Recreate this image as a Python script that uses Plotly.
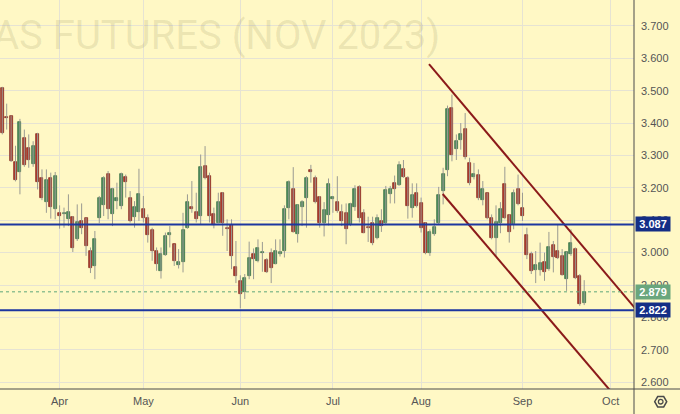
import plotly.graph_objects as go

# ---- data ----
opens = [3.508, 3.418, 3.421, 3.279, 3.249, 3.354, 3.323, 3.274, 3.365, 3.231,
         3.155, 3.229, 3.134, 3.123, 3.118, 3.103, 3.111, 3.041, 3.098, 3.108,
         3.005, 2.959, 3.108, 3.146, 3.243, 3.118, 3.159, 3.144, 3.234, 3.170,
         3.111, 3.126, 3.134, 3.108, 3.069, 3.005, 2.944, 2.993, 3.054, 3.026,
         2.961, 2.970, 3.077, 3.142, 3.127, 3.113, 3.269, 3.238, 3.120, 3.093,
         3.185, 3.075, 3.084, 2.956, 2.913, 2.877, 2.928, 2.995, 2.973, 3.000,
         2.977, 2.998, 2.966, 2.995, 3.005, 3.139, 3.197, 3.059, 3.142, 3.169,
         3.254, 3.231, 3.173, 3.091, 3.115, 3.167, 3.157, 3.126, 3.121, 3.088,
         3.142, 3.202, 3.123, 3.080, 3.091, 3.046, 3.098, 3.091, 3.182, 3.214,
         3.208, 3.259, 3.229, 3.139, 3.185, 3.152, 3.091, 3.000, 3.057, 3.091,
         3.190, 3.255, 3.447, 3.320, 3.349, 3.382, 3.277, 3.234, 3.239, 3.164,
         3.183, 3.108, 3.046, 3.091, 3.211, 3.115, 3.088, 3.195, 3.139, 3.054,
         2.995, 2.947, 2.947, 2.972, 2.951, 3.023, 3.005, 2.990, 2.920, 2.995,
         3.011, 2.929, 2.844]
highs = [3.512, 3.460, 3.423, 3.330, 3.413, 3.380, 3.365, 3.344, 3.370, 3.257,
         3.257, 3.247, 3.249, 3.146, 3.139, 3.180, 3.113, 3.149, 3.152, 3.108,
         3.016, 3.067, 3.175, 3.236, 3.252, 3.200, 3.216, 3.247, 3.241, 3.190,
         3.159, 3.259, 3.175, 3.118, 3.077, 3.016, 3.016, 3.062, 3.082, 3.026,
         3.011, 3.123, 3.180, 3.221, 3.185, 3.303, 3.329, 3.247, 3.139, 3.185,
         3.187, 3.103, 3.103, 3.036, 2.930, 2.934, 3.034, 3.013, 3.041, 3.033,
         2.983, 3.013, 3.041, 3.041, 3.146, 3.223, 3.264, 3.149, 3.162, 3.236,
         3.271, 3.238, 3.175, 3.156, 3.229, 3.175, 3.236, 3.149, 3.152, 3.154,
         3.208, 3.208, 3.134, 3.111, 3.111, 3.118, 3.134, 3.206, 3.206, 3.238,
         3.282, 3.286, 3.236, 3.214, 3.214, 3.170, 3.093, 3.072, 3.103, 3.203,
         3.262, 3.454, 3.488, 3.365, 3.400, 3.431, 3.293, 3.277, 3.257, 3.221,
         3.185, 3.118, 3.146, 3.156, 3.265, 3.118, 3.195, 3.241, 3.185, 3.077,
         3.003, 3.005, 3.031, 3.000, 3.064, 3.036, 3.087, 3.011, 3.003, 3.072,
         3.016, 2.934, 2.915]
lows = [3.365, 3.380, 3.280, 3.220, 3.180, 3.265, 3.262, 3.265, 3.195, 3.162,
        3.123, 3.105, 3.103, 3.074, 3.077, 3.082, 3.002, 3.036, 3.057, 2.990,
        2.937, 2.918, 3.091, 3.113, 3.103, 3.082, 3.134, 3.134, 3.170, 3.093,
        3.077, 3.098, 3.093, 3.031, 2.975, 2.944, 2.920, 2.990, 3.016, 2.959,
        2.951, 2.939, 3.074, 3.123, 3.093, 3.088, 3.226, 3.093, 3.075, 3.091,
        3.052, 3.005, 2.949, 2.906, 2.828, 2.857, 2.918, 2.918, 2.970, 2.941,
        2.937, 2.906, 2.964, 2.988, 2.985, 3.103, 3.062, 3.031, 3.082, 3.077,
        3.216, 3.152, 3.077, 3.050, 3.084, 3.123, 3.123, 3.082, 3.026, 3.082,
        3.129, 3.093, 3.060, 3.033, 3.023, 3.041, 3.064, 3.088, 3.152, 3.152,
        3.206, 3.231, 3.105, 3.108, 3.139, 3.062, 2.995, 2.990, 3.052, 3.088,
        3.149, 3.236, 3.282, 3.286, 3.318, 3.288, 3.208, 3.226, 3.162, 3.146,
        3.103, 3.041, 2.990, 3.060, 3.103, 3.031, 3.072, 3.146, 3.098, 2.980,
        2.934, 2.906, 2.929, 2.913, 2.944, 2.939, 2.980, 2.929, 2.882, 2.990,
        2.918, 2.836, 2.838]
closes = [3.370, 3.415, 3.283, 3.223, 3.404, 3.270, 3.285, 3.329, 3.218, 3.168,
          3.224, 3.141, 3.236, 3.113, 3.121, 3.126, 3.013, 3.095, 3.077, 3.019,
          2.952, 3.043, 3.170, 3.229, 3.136, 3.197, 3.169, 3.243, 3.218, 3.098,
          3.141, 3.180, 3.108, 3.055, 3.005, 2.966, 2.995, 3.052, 3.062, 2.975,
          2.972, 3.069, 3.157, 3.136, 3.103, 3.265, 3.231, 3.113, 3.085, 3.157,
          3.091, 3.072, 2.990, 2.928, 2.872, 2.923, 2.983, 2.980, 3.013, 3.003,
          2.939, 2.954, 3.005, 3.003, 3.134, 3.219, 3.064, 3.147, 3.157, 3.229,
          3.249, 3.157, 3.091, 3.131, 3.213, 3.173, 3.129, 3.098, 3.072, 3.149,
          3.197, 3.108, 3.062, 3.076, 3.029, 3.108, 3.082, 3.192, 3.195, 3.195,
          3.272, 3.234, 3.144, 3.177, 3.144, 3.077, 2.998, 3.064, 3.079, 3.177,
          3.243, 3.444, 3.300, 3.344, 3.365, 3.296, 3.216, 3.244, 3.170, 3.195,
          3.108, 3.046, 3.095, 3.136, 3.108, 3.064, 3.183, 3.149, 3.113, 2.992,
          2.944, 2.962, 2.967, 2.939, 3.016, 2.988, 2.982, 2.932, 3.003, 3.029,
          2.921, 2.841, 2.880]

month_labels = ["Apr", "May", "Jun", "Jul", "Aug", "Sep", "Oct"]
month_start_idx = [13, 32, 54, 75, 95, 118, 138]

level_resist = 3.087
level_support = 2.822
last_price = 2.879

chan_upper_x = [96.8, 150.0]
chan_upper_y = [3.582, 2.724]
chan_lower_x = [99.9, 145.0]
chan_lower_y = [3.181, 2.461]

# ---- styling ----
BG = "#FFF8C5"
GRID = "#E6E3D3"
TXT = "#555555"
UP_FILL, UP_LINE = "#4E8C5E", "#2F6A3F"
DN_FILL, DN_LINE = "#B03A2E", "#7E2118"
WICK = "#9A9A92"
NAVY = "#142E86"
BLUE_LINE = "#1C36A0"
GREEN_LBL = "#6AA67D"
CHAN = "#8B1A1A"
FONT = "Liberation Sans"

idx = list(range(len(opens)))

wx, wy = [], []
for i in idx:
    wx += [i, i, None]
    wy += [lows[i], highs[i], None]

bases = [min(o, c) for o, c in zip(opens, closes)]
heights = [max(abs(c - o), 0.003) for o, c in zip(opens, closes)]
fills = [UP_FILL if c >= o else DN_FILL for o, c in zip(opens, closes)]
outlines = [UP_LINE if c >= o else DN_LINE for o, c in zip(opens, closes)]

fig = go.Figure()
fig.add_trace(go.Scatter(x=wx, y=wy, mode="lines",
                         line=dict(color=WICK, width=1), hoverinfo="skip"))
fig.add_trace(go.Bar(x=idx, y=heights, base=bases, width=0.68,
                     marker=dict(color=fills, line=dict(color=outlines, width=0.7))))
fig.add_trace(go.Scatter(x=chan_upper_x, y=chan_upper_y, mode="lines",
                         line=dict(color=CHAN, width=2)))
fig.add_trace(go.Scatter(x=chan_lower_x, y=chan_lower_y, mode="lines",
                         line=dict(color=CHAN, width=2)))

shapes = [
    dict(type="line", xref="paper", yref="y", x0=0, x1=1, y0=last_price, y1=last_price,
         line=dict(color="#5FA67A", width=1, dash="dot")),
    dict(type="line", xref="paper", yref="y", x0=0, x1=1, y0=level_resist, y1=level_resist,
         line=dict(color=BLUE_LINE, width=2)),
    dict(type="line", xref="paper", yref="y", x0=0, x1=1, y0=level_support, y1=level_support,
         line=dict(color=BLUE_LINE, width=2)),
    # axis frame lines
    dict(type="line", xref="paper", yref="paper", x0=1, x1=1, y0=-25 / 389, y1=1,
         line=dict(color="#4A4A4A", width=1)),
    dict(type="line", xref="paper", yref="paper", x0=0, x1=680 / 634, y0=0, y1=0,
         line=dict(color="#4A4A4A", width=1)),
]

# settings (gear) icon in the bottom-right corner
cx, cy, r = 660.7, 401.7, 6.0
def px(xp):
    return xp / 634.0
def py(yp):
    return (389.0 - yp) / 389.0
hexpts = [(cx + r, cy), (cx + r / 2, cy - r * 0.866), (cx - r / 2, cy - r * 0.866),
          (cx - r, cy), (cx - r / 2, cy + r * 0.866), (cx + r / 2, cy + r * 0.866)]
path = "M " + " L ".join(f"{px(a):.5f},{py(b):.5f}" for a, b in hexpts) + " Z"
shapes.append(dict(type="path", xref="paper", yref="paper", path=path,
                   line=dict(color="#4A4A4A", width=1.5)))
shapes.append(dict(type="circle", xref="paper", yref="paper",
                   x0=px(cx - 2.3), x1=px(cx + 2.3), y0=py(cy + 2.3), y1=py(cy - 2.3),
                   line=dict(color="#4A4A4A", width=1.3)))

annotations = [
    dict(text="AS FUTURES (NOV 2023)", xref="paper", yref="paper",
         x=442 / 634, y=1 - 35 / 389, xanchor="right", yanchor="middle",
         showarrow=False, font=dict(family="Roboto", size=40, color="rgba(60,50,0,0.10)")),
]
for val, bg in [(level_resist, NAVY), (last_price, GREEN_LBL), (level_support, NAVY)]:
    annotations.append(dict(text=f"{val:.3f}", xref="paper", yref="y", x=1, xshift=1,
                            y=val, xanchor="left", yanchor="middle", showarrow=False,
                            width=34, height=14, borderpad=0, bgcolor=bg,
                            font=dict(family=FONT, size=11, color="white", weight="bold")))

fig.update_layout(
    width=680, height=414,
    margin=dict(l=0, r=46, t=0, b=25),
    paper_bgcolor=BG, plot_bgcolor=BG,
    showlegend=False, bargap=0,
    shapes=shapes, annotations=annotations,
    xaxis=dict(range=[-0.52, 143.3], tickmode="array", tickvals=month_start_idx,
               ticktext=month_labels, showgrid=True, gridcolor=GRID, gridwidth=1,
               zeroline=False, showline=False, ticks="", ticklabelstandoff=4,
               tickfont=dict(family=FONT, size=11, color=TXT)),
    yaxis=dict(range=[2.579, 3.780], side="right", tick0=2.6, dtick=0.1,
               tickformat=".3f", showgrid=True, gridcolor=GRID, gridwidth=1,
               zeroline=False, showline=False, ticks="", ticklabelstandoff=6,
               tickfont=dict(family=FONT, size=11, color=TXT)),
)

fig.write_html("out.html", config={"displayModeBar": False},
               post_script="document.body.style.margin='0';document.body.style.background='#FFF8C5';")
